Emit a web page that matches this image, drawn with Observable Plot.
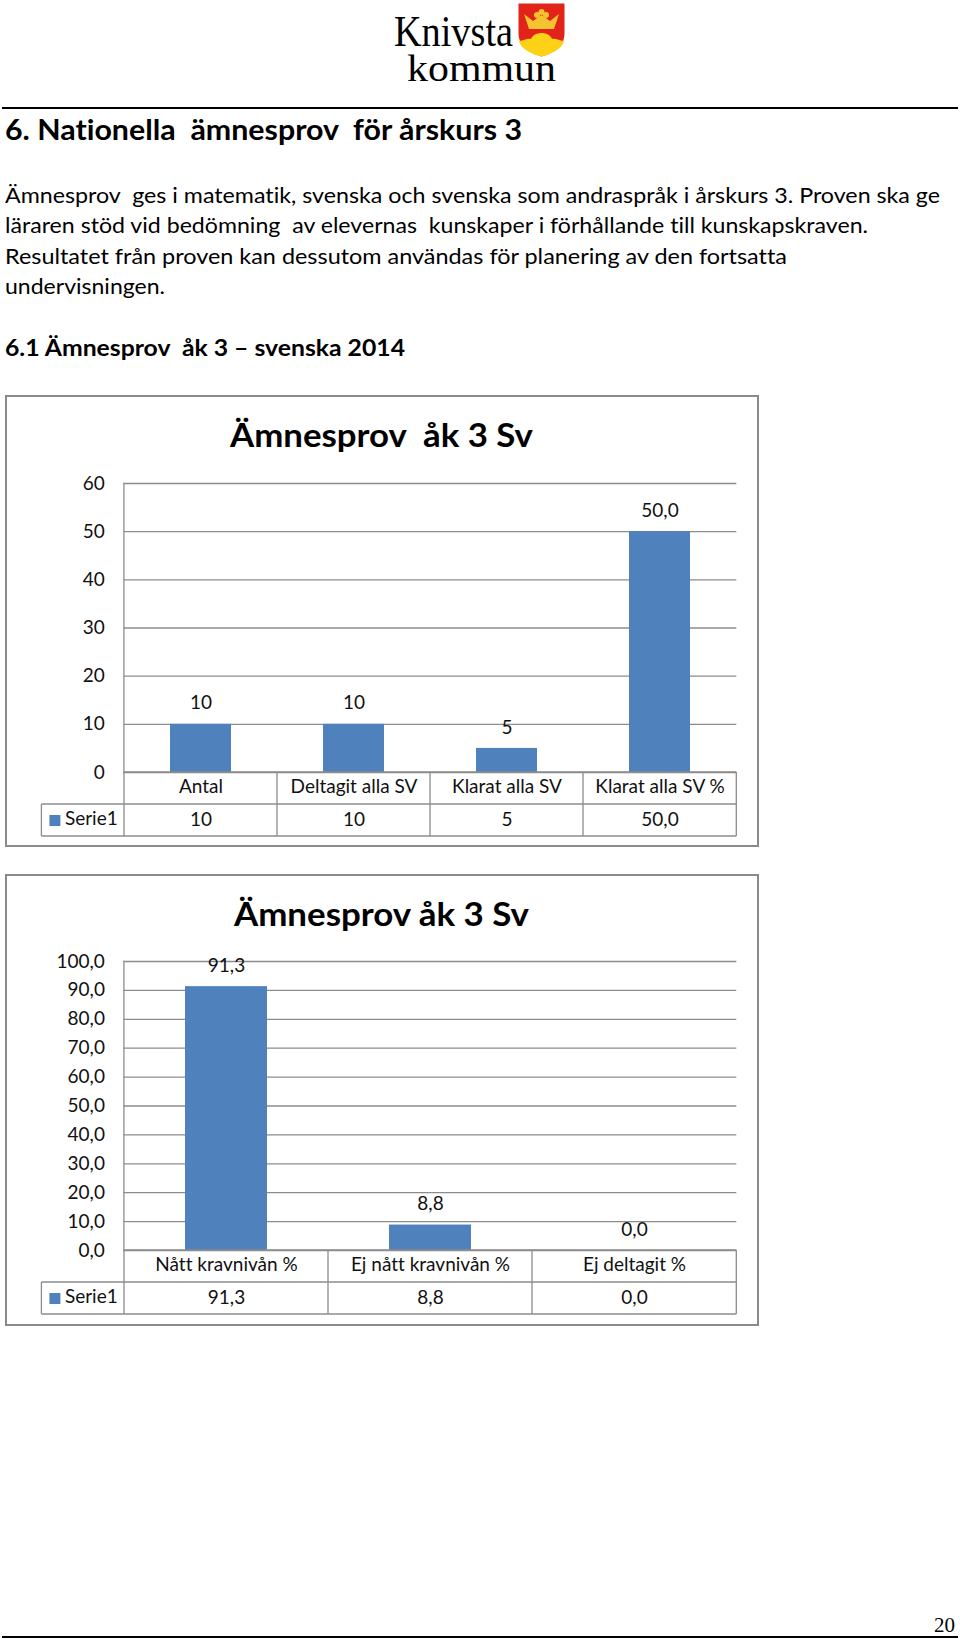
<!DOCTYPE html>
<html lang="sv">
<head>
<meta charset="utf-8">
<script src="https://cdn.jsdelivr.net/npm/d3@7"></script>
<script src="https://cdn.jsdelivr.net/npm/@observablehq/plot@0.6"></script>
<style>
html,body{margin:0;padding:0;background:#fff}
body{position:relative;width:960px;height:1639px;overflow:hidden;font-family:Lato,sans-serif;color:#000;font-variant-ligatures:none}
.line{position:absolute;white-space:pre;transform-origin:0 0;line-height:1}
.rule{position:absolute;background:#000}
.chart{position:absolute;left:5px;width:754px;height:452px;box-sizing:border-box}
.chart svg{position:absolute;left:0;top:0;font-variant-ligatures:none}
.frame{position:absolute;left:5px;width:754px;height:452px;box-sizing:border-box;border:2px solid #8a8a8a;pointer-events:none}
</style>
</head>
<body>
<script>
const categoriesA = ["Antal", "Deltagit alla SV", "Klarat alla SV", "Klarat alla SV %"];
const valuesA = [10, 10, 5, 50];
const labelsA = ["10", "10", "5", "50,0"];
const ticksA = [0, 10, 20, 30, 40, 50, 60];

const categoriesB = ["Nått kravnivån %", "Ej nått kravnivån %", "Ej deltagit %"];
const valuesB = [91.3, 8.8, 0];
const labelsB = ["91,3", "8,8", "0,0"];
const ticksB = [0, 10, 20, 30, 40, 50, 60, 70, 80, 90, 100];

const seriesName = "Serie1";
const GRID = "#8c8c8c", BAR = "#4f81bd", LABEL = "#111";

// [text, left, right, baseline, size, weight, family]
const textLines = [
  ["6. Nationella  ämnesprov  för årskurs 3", 5, 522, 140, 29, 700],
  ["Ämnesprov  ges i matematik, svenska och svenska som andraspråk i årskurs 3. Proven ska ge", 5, 940, 203, 21, 400],
  ["läraren stöd vid bedömning  av elevernas  kunskaper i förhållande till kunskapskraven.", 5, 868, 233, 21, 400],
  ["Resultatet från proven kan dessutom användas för planering av den fortsatta", 5, 787, 264, 21, 400],
  ["undervisningen.", 5, 165, 294, 21, 400],
  ["6.1 Ämnesprov  åk 3 – svenska 2014", 5, 405, 356, 23, 700],
  ["Ämnesprov  åk 3 Sv", 230, 533, 447, 32, 700],
  ["Ämnesprov åk 3 Sv", 234, 529, 926, 32, 700],
  ["Knivsta", 394, 513, 47, 44, 400, "Liberation Serif"],
  ["kommun", 407, 556, 81, 38, 400, "Liberation Serif"],
  ["20", 934, 955, 1632, 22, 400, "Liberation Serif"]
];

function addRule(top, h) {
  const r = document.createElement("div");
  r.className = "rule";
  Object.assign(r.style, {left: "2px", width: "956px", top: top + "px", height: h + "px"});
  document.body.append(r);
}

function addChart(top, categories, values, labels, ticks, tickFormat) {
  const data = categories.map((c, i) => ({c, v: values[i], l: labels[i]}));
  const table = (index, {x}, channels, {width, height, marginRight, marginBottom}) => {
    const g = d3.create("svg:g");
    const off = (x.step() - x.bandwidth()) / 2;
    const edges = categories.map(c => x(c) - off);
    const right = width - marginRight;
    edges.push(right);
    const y0 = height - marginBottom;
    const row = 32, rowB = 64;
    const left = edges[0] - 82.6;
    const seg = (x1, y1, x2, y2) => g.append("line").attr("x1", x1).attr("y1", y1).attr("x2", x2).attr("y2", y2)
      .attr("stroke", GRID).attr("stroke-width", 1.3);
    seg(edges[0], y0, right, y0);
    seg(left, y0 + row, right, y0 + row);
    seg(left, y0 + rowB, right, y0 + rowB);
    seg(left, y0 + row, left, y0 + rowB);
    edges.forEach(e => seg(e, y0, e, y0 + rowB));
    g.append("rect").attr("x", left + 8).attr("y", y0 + 43).attr("width", 11).attr("height", 11).attr("fill", BAR);
    return g.node();
  };
  const plot = Plot.plot({
    width: 754, height: 452,
    marginTop: top.y1 - top.frame, marginBottom: top.frame + 452 - top.y0, marginLeft: 118.4, marginRight: 22.7,
    style: {background: "transparent", fontFamily: "Lato, sans-serif"},
    x: {domain: categories, paddingInner: 0.6, paddingOuter: 0.3, label: null},
    y: {domain: [ticks[0], ticks[ticks.length - 1]], label: null},
    marks: [
      Plot.ruleY(ticks, {stroke: GRID, strokeWidth: 1.3, strokeOpacity: 1}),
      Plot.frame({anchor: "left", stroke: GRID, strokeWidth: 1.3}),
      Plot.barY(data, {x: "c", y: "v", fill: BAR}),
      Plot.axisY(ticks, {anchor: "left", tickSize: 0, tickPadding: 19, fontSize: 19, fill: LABEL, tickFormat, label: null}),
      Plot.axisX({anchor: "bottom", tickSize: 0, tickPadding: 7, fontSize: 19, fill: LABEL, label: null}),
      Plot.text(data, {x: "c", y: "v", text: "l", dy: -21, fontSize: 19, fill: LABEL}),
      Plot.text(data, {x: "c", frameAnchor: "bottom", text: "l", dy: 53, fontSize: 19, fill: LABEL}),
      table,
      Plot.text([seriesName], {frameAnchor: "bottom-left", dx: -59, dy: 52, textAnchor: "start", fontSize: 19, fill: LABEL})
    ]
  });
  const wrap = document.createElement("div");
  wrap.className = "chart";
  wrap.style.top = top.frame + "px";
  wrap.append(plot);
  document.body.append(wrap);
  const f = document.createElement("div");
  f.className = "frame";
  f.style.top = top.frame + "px";
  document.body.append(f);
}

addRule(107, 2);
addRule(1636, 2);
addChart({frame: 395, y1: 483, y0: 772}, categoriesA, valuesA, labelsA, ticksA, d => String(d));
addChart({frame: 874, y1: 961, y0: 1250}, categoriesB, valuesB, labelsB, ticksB, d => d.toFixed(1).replace(".", ","));

// Kommunens vapen (logotypens sköld)
document.body.insertAdjacentHTML("beforeend", `
<svg style="position:absolute;left:518px;top:3px" width="47" height="54" viewBox="0 0 47 54">
  <path d="M0.5 0.5H46.5V30C46.5 44 35 50 23.5 53.5C12 50 0.5 44 0.5 30Z" fill="#e2231a"/>
  <path d="M1 38C6 38 9 35 13 36C16 28 31 28 34 36C38 35 41 38 46 38C44 46 34 51 23.5 53.5C13 51 3 46 1 38Z" fill="#fcd116"/>
  <path d="M11 26L6 11L15 18L23.5 12L32 18L41 11L36 26Z" fill="#f4c430"/>
  <circle cx="23.5" cy="9" r="3" fill="#f4c430"/><circle cx="19" cy="12" r="3" fill="#f4c430"/><circle cx="28" cy="12" r="3" fill="#f4c430"/>
</svg>`);

textLines.forEach(([text, left, right, base, size, weight, family]) => {
  const s = document.createElement("div");
  s.className = "line";
  s.textContent = text;
  s.style.fontSize = size + "px";
  s.style.fontWeight = weight;
  if (family) s.style.fontFamily = family;
  s.style.left = left + "px";
  s.style.top = (base - size * (family ? 0.8375 : 0.887)) + "px";
  document.body.append(s);
  s.style.transform = `scaleX(${(right - left) / s.getBoundingClientRect().width})`;
});
</script>
</body>
</html>
